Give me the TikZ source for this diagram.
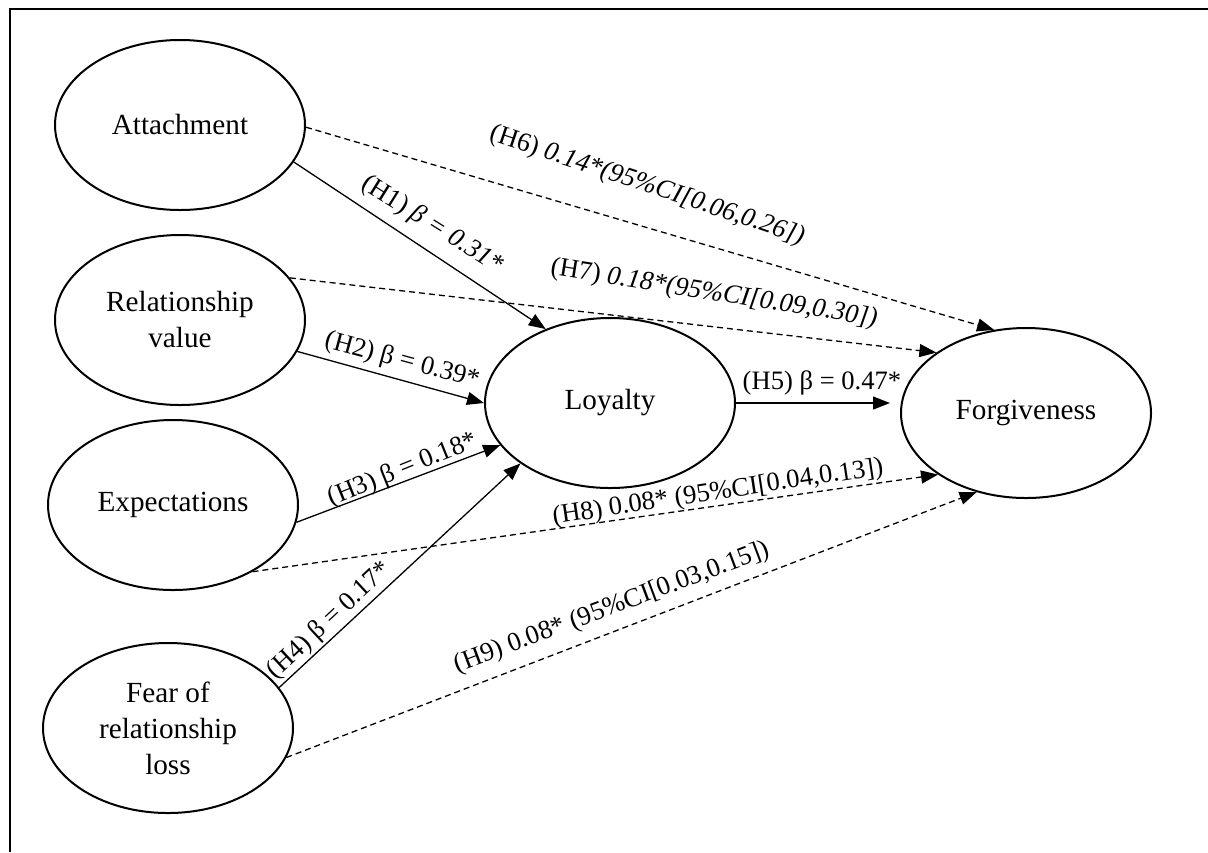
\documentclass[tikz,border=0pt]{standalone}
\usepackage{fontspec}
\setmainfont{Liberation Serif}
\usetikzlibrary{arrows.meta,shapes.geometric}
\begin{document}
\begin{tikzpicture}[x=0.5pt,y=-0.5pt,
  latent/.style={ellipse, draw, line width=1pt, minimum width=125pt, minimum height=85pt, inner sep=0pt, align=center, font=\fontsize{14.6}{18}\selectfont},
  solidarrow/.style={line width=0.65pt, -{Triangle[length=8.5pt,width=6.5pt]}},
  dasharrow/.style={solidarrow, dash pattern=on 3pt off 2pt},
  lab/.style={font=\fontsize{13.3}{16}\selectfont, inner sep=0pt}]
\useasboundingbox (0,0) rectangle (1208,852);
\draw[line width=1.2pt] (10,852) -- (10,9) -- (1208,9);

\node[latent] (att) at (180,125) {Attachment};
\node[latent] (rel) at (180,320) {Relationship\\value};
\node[latent] (exp) at (173,505) {Expectations};
\node[latent] (fear) at (168,728) {Fear of\\relationship\\loss};
\node[latent] (loy) at (610,403) {Loyalty};
\node[latent] (forg) at (1026,413) {Forgiveness};

\draw[dasharrow] (att.-1) -- (forg.111);
\draw[solidarrow] (att.-18) -- (loy.131);
\draw[dasharrow] (rel.21) -- (forg.146);
\draw[solidarrow] (rel.-15) -- (loy.180);
\draw[solidarrow] (exp.-8) -- (loy.201);
\draw[dasharrow] (exp.-40) -- (forg.215);
\draw[solidarrow] (fear.20) -- node[lab, sloped, above, pos=0.25, inner sep=1pt] (l4) {(H4) β = 0.17*} (loy.214);
\draw[dasharrow] (fear.-14) -- (forg.238);
\draw[solidarrow, shorten >=5pt] (loy.east) -- (loy.east -| forg.west);

\node[lab, rotate=-32] (l1) at (432,225) {(H1) \textit{β = 0.31*}};
\node[lab, rotate=-15] (l2) at (402,361) {(H2) β = 0.39*};
\node[lab, rotate=22] (l3) at (403,470) {(H3) β = 0.18*};
\node[lab] (l5) at (822,383) {(H5) β = 0.47*};
\node[lab, rotate=-18.5] (l6) at (647,186) {(H6) \textit{0.14*(95\%CI[0.06,0.26])}};
\node[lab, rotate=-9] (l7) at (714,294) {(H7) \textit{0.18*(95\%CI[0.09,0.30])}};
\node[lab, rotate=8.6] (l8) at (718,493) {(H8) 0.08* (95\%CI[0.04,0.13])};
\node[lab, rotate=20.5] (l9) at (612,608) {(H9) 0.08* (95\%CI[0.03,0.15])};
\end{tikzpicture}
\end{document}
